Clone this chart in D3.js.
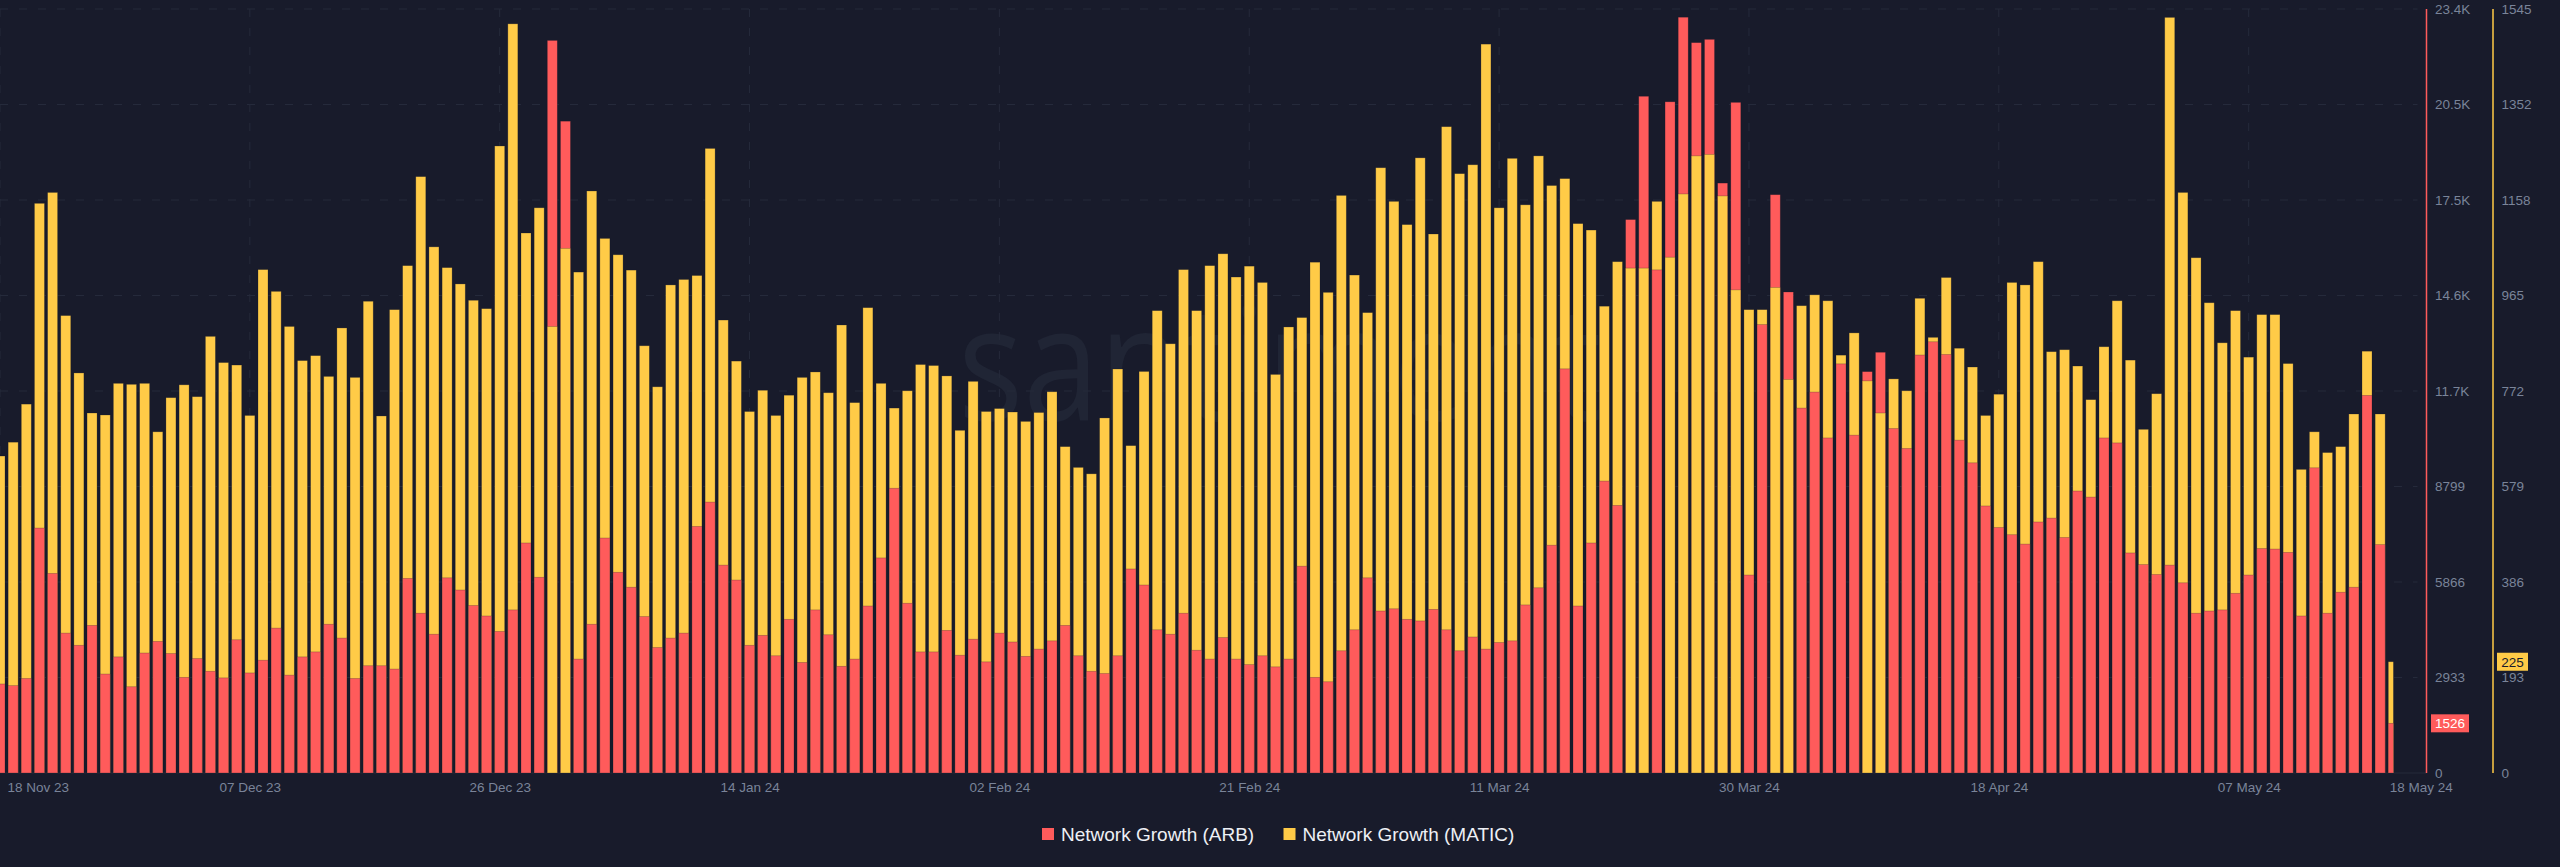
<!DOCTYPE html>
<html>
<head>
<meta charset="utf-8">
<script src="https://cdn.jsdelivr.net/npm/d3@7"></script>
<style>
  html, body { margin: 0; padding: 0; background: #181b2b; overflow: hidden; }
  text { font-family: "Liberation Sans", Arial, sans-serif; }
  .domain { display: none; }
  .tick line { display: none; }
  .tick text { fill: #7a8499; font-size: 13.5px; }
</style>
</head>
<body>
<div id="chart"></div>
<script>
// daily values, 18 Nov 23 -> 18 May 24
const startDate = "2023-11-18"
const endDate = "2024-05-18"

const arbValues = [
  2734,2683,2904,7522,6130,4296,3922,4534,3039,3566,2649,3685,4041,3668,2938,3515,3124,2921,4092,3073,
  3464,4449,3005,3566,3719,4568,4143,2904,3294,3294,3192,5977,4907,4262,5994,5620,5145,4822,4347,5009,
  7064,6011,22499,20019,3498,4568,7217,6164,5705,4805,3854,4143,4296,7573,8320,6384,5926,3922,4228,3600,
  4720,3396,5009,4245,3277,3498,5128,6605,8745,5213,3719,3719,4381,3617,4109,3413,4296,4024,3583,3804,
  4058,4534,3600,3124,3056,3600,6266,5773,4398,4262,4907,3770,3498,4160,3498,3328,3600,3260,3498,6351,
  2938,2802,3753,4398,5994,4975,5043,4720,4670,5026,4398,3753,4177,3804,4007,4058,5162,5688,6996,12412,
  5128,7064,8965,8218,16997,20784,15452,20614,23212,22431,22532,18118,20597,6079,13771,17761,14773,11207,11699,10290,
  12565,10375,12327,12922,10579,9967,12837,13244,12854,10222,9526,8201,7539,7318,7030,7709,7828,7233,8660,8473,
  10290,10137,6758,6401,6096,6384,5841,4907,4975,5009,5519,6079,6894,6877,6775,4822,9373,4907,5552,5705,
  11597,7013,1526
]

const maticValues = [
  641,669,746,1152,1174,925,809,728,724,788,786,788,690,759,785,761,883,830,825,723,
  1018,974,903,834,844,802,900,800,954,722,937,1026,1206,1064,1022,989,956,939,1268,1515,
  1092,1143,903,1061,1013,1177,1081,1048,1017,864,781,987,998,1006,1263,916,833,731,774,723,
  764,800,811,769,906,749,941,788,738,773,826,824,803,693,792,731,737,730,711,729,
  771,660,618,605,718,817,662,812,935,868,1018,935,1026,1050,1003,1025,992,806,902,921,
  1033,972,1168,1007,931,1224,1156,1109,1244,1090,1307,1212,1230,1474,1143,1243,1149,1248,1188,1202,
  1111,1098,944,1034,1021,1021,1156,1043,1171,1248,1251,1167,977,937,937,982,796,945,967,955,
  845,890,793,728,797,773,960,881,1002,859,821,723,766,992,987,1034,852,856,823,755,
  862,955,835,695,767,1528,1174,1042,951,870,935,841,927,927,828,614,690,648,660,726,
  853,726,225
]

const dateTicks = ["2023-11-18","2023-12-07","2023-12-26","2024-01-14","2024-02-02","2024-02-21",
  "2024-03-11","2024-03-30","2024-04-18","2024-05-07","2024-05-18"]
const arbTickLabels = ["0","2933","5866","8799","11.7K","14.6K","17.5K","20.5K","23.4K"]
const maticTickLabels = ["0","193","386","579","772","965","1158","1352","1545"]

const arbMax = 23464
const maticMax = 1545

const RED = "#ff5b5b"
const YELLOW = "#ffcb47"
const GRID = "#252a3b"

const chartW = 2560, chartH = 867
const plotLeft = 0, plotRight = 2393.3, plotTop = 9, plotBottom = 773
const arbAxisX = 2426.5, maticAxisX = 2493

const parse = d3.utcParse("%Y-%m-%d")
const fmt = d3.utcFormat("%d %b %y")

const x = d3.scaleUtc().domain([parse(startDate), parse(endDate)]).range([plotLeft, plotRight])
const yArb = d3.scaleLinear().domain([0, arbMax]).range([plotBottom, plotTop])
const yMatic = d3.scaleLinear().domain([0, maticMax]).range([plotBottom, plotTop])
// both y axes have 8 even steps, labels come from the arrays above
const yStep = d3.scaleLinear().domain([0, 8]).range([plotBottom, plotTop])

const days = d3.utcDay.range(parse(startDate), d3.utcDay.offset(parse(endDate), 1))
const barWidth = 10

const svg = d3.select("#chart").append("svg")
  .attr("width", chartW).attr("height", chartH)
  .style("display", "block")

svg.append("text")
  .attr("x", 958).attr("y", 420)
  .attr("textLength", 644).attr("lengthAdjust", "spacingAndGlyphs")
  .style("font-family", "'Open Sans'")
  .style("font-weight", 400)
  .style("font-size", "160px")
  .style("fill", "#202535")
  .text("santiment")

// grid
svg.append("g").selectAll("line").data(d3.range(1, 9)).enter().append("line")
  .attr("x1", 0).attr("x2", arbAxisX - 9)
  .attr("y1", d => yStep(d)).attr("y2", d => yStep(d))
  .attr("stroke", GRID).attr("stroke-dasharray", "8 11")

svg.append("g").selectAll("line").data(dateTicks.slice(0, -1)).enter().append("line")
  .attr("x1", d => x(parse(d))).attr("x2", d => x(parse(d)))
  .attr("y1", plotTop).attr("y2", plotBottom)
  .attr("stroke", GRID).attr("stroke-dasharray", "8 11")

svg.append("line").attr("x1", 0).attr("x2", arbAxisX).attr("y1", plotBottom).attr("y2", plotBottom).attr("stroke", GRID)

// bars: tallest drawn first so the shorter one stays in front
svg.append("clipPath").attr("id", "plot").append("rect")
  .attr("x", plotLeft).attr("y", 0).attr("width", plotRight - plotLeft).attr("height", chartH)

const bars = svg.append("g").attr("clip-path", "url(#plot)")
days.forEach((day, i) => {
  const rows = [
    { y: yArb(arbValues[i]), color: RED },
    { y: yMatic(maticValues[i]), color: YELLOW }
  ].sort((a, b) => a.y - b.y)

  bars.append("g").selectAll("rect").data(rows).enter().append("rect")
    .attr("x", x(day) - barWidth / 2)
    .attr("width", barWidth)
    .attr("y", d => d.y)
    .attr("height", d => plotBottom - d.y)
    .attr("fill", d => d.color)
    .attr("stroke", "rgba(24,27,43,0.35)")
    .attr("stroke-width", 0.7)
})

// x axis
const xAxis = svg.append("g")
  .attr("transform", `translate(0,${plotBottom})`)
  .call(d3.axisBottom(x).tickValues(dateTicks.map(parse)).tickFormat(fmt).tickSize(0).tickPadding(8))
xAxis.selectAll(".tick text").attr("dy", "11")
  .each(function (d, i) {
    // first and last labels are pushed inside like the original
    if (i === 0) d3.select(this).attr("text-anchor", "start").attr("x", 7)
    if (i === dateTicks.length - 1) d3.select(this).attr("text-anchor", "start").attr("x", -4)
  })

// y axes
svg.append("g")
  .attr("transform", `translate(${arbAxisX},0)`)
  .call(d3.axisRight(yStep).tickValues(d3.range(9)).tickFormat(d => arbTickLabels[d]).tickSize(0).tickPadding(8.5))
svg.append("g")
  .attr("transform", `translate(${maticAxisX},0)`)
  .call(d3.axisRight(yStep).tickValues(d3.range(9)).tickFormat(d => maticTickLabels[d]).tickSize(0).tickPadding(8.5))

svg.append("line").attr("x1", arbAxisX).attr("x2", arbAxisX).attr("y1", plotTop).attr("y2", plotBottom)
  .attr("stroke", RED).attr("stroke-width", 1.5)
svg.append("line").attr("x1", maticAxisX).attr("x2", maticAxisX).attr("y1", plotTop).attr("y2", plotBottom)
  .attr("stroke", YELLOW).attr("stroke-width", 1.5)

// last value tags
function lastTag(x0, w, yPos, value, fill, color) {
  svg.append("rect").attr("x", x0).attr("y", yPos - 9).attr("width", w).attr("height", 18).attr("fill", fill)
  svg.append("text").attr("x", x0 + w / 2).attr("y", yPos + 5)
    .attr("text-anchor", "middle")
    .style("font-size", "13.5px")
    .style("fill", color)
    .text(value)
}
lastTag(2431, 38, yArb(arbValues[arbValues.length - 1]), arbValues[arbValues.length - 1], RED, "#fff")
lastTag(2497, 31, yMatic(maticValues[maticValues.length - 1]), maticValues[maticValues.length - 1], YELLOW, "#181b2b")

// legend
const legendItems = [
  { name: "Network Growth (ARB)", color: RED, sq: 1042 },
  { name: "Network Growth (MATIC)", color: YELLOW, sq: 1283.5 }
]
const legend = svg.append("g")
legend.selectAll("rect").data(legendItems).enter().append("rect")
  .attr("x", d => d.sq).attr("y", 828).attr("width", 12).attr("height", 12).attr("fill", d => d.color)
legend.selectAll("text").data(legendItems).enter().append("text")
  .attr("x", d => d.sq + 19).attr("y", 840.5)
  .style("font-size", "19px")
  .style("fill", "#eef0f5")
  .text(d => d.name)
</script>
</body>
</html>
